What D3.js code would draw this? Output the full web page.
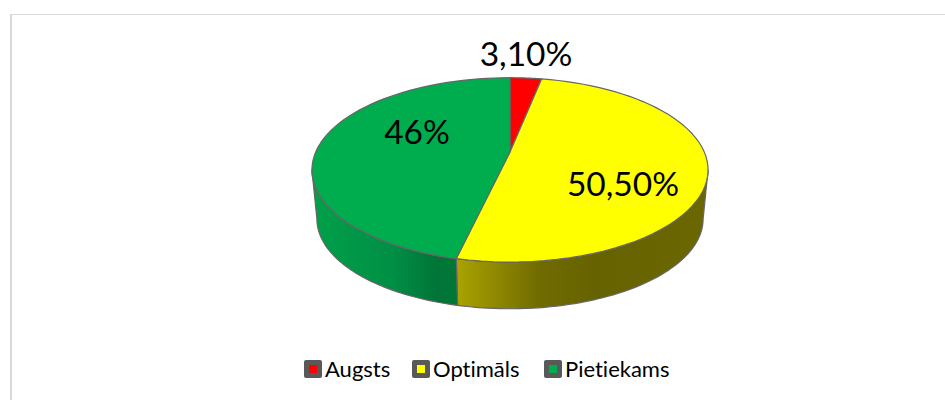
<!DOCTYPE html>
<html>
<head>
<meta charset="utf-8">
<script src="https://cdn.jsdelivr.net/npm/d3@7"></script>
<style>
html, body { margin: 0; padding: 0; background: #fff; overflow: hidden; }
svg { display: block; }
text { font-family: Lato, "Open Sans", sans-serif; fill: #000; font-variant-ligatures: none; }
</style>
</head>
<body>
<div id="chart"></div>
<script>
// values, 46% is shown rounded
var categories = ['Augsts', 'Optimāls', 'Pietiekams'];
var values = [3.1, 50.5, 46.4];
var valueLabels = ['3,10%', '50,50%', '46%'];
var colors = ['#ff0000', '#ffff00', '#00ad4e'];

var width = 945, height = 400;

// tilted disc
var cx = 510, apexY = 152;
var rx = 194.3, ry = 88.7, persp = 0.194;
var bottomScale = 0.975, bottomCy = 219, topCy = 170;
var edge = '#666666';

// label anchors (centre of text)
var labelPos = [[526, 54], [623, 184], [417, 132]];

var svg = d3.select('#chart').append('svg')
    .attr('width', width)
    .attr('height', height);

// chart frame, only top and left show
svg.append('rect').attr('x', 10).attr('y', 14).attr('width', 935).attr('height', 1).attr('fill', '#d9d9d9');
svg.append('rect').attr('x', 10).attr('y', 14).attr('width', 2).attr('height', 386).attr('fill', '#d9d9d9');

var defs = svg.append('defs');

function addGradient(id, x1, x2, stops) {
    var g = defs.append('linearGradient')
        .attr('id', id)
        .attr('gradientUnits', 'userSpaceOnUse')
        .attr('x1', x1).attr('x2', x2).attr('y1', 0).attr('y2', 0);
    stops.forEach(function(s) {
        g.append('stop').attr('offset', s[0]).attr('stop-color', s[1]);
    });
}
addGradient('sideYellow', 458, 708, [[0, '#a9a200'], [0.32, '#716c00'], [0.55, '#666200'], [1, '#6b6700']]);
addGradient('sideGreen', 312, 458, [[0, '#00a04a'], [0.55, '#008f45'], [0.85, '#007537'], [1, '#007738']]);

var pie = d3.pie().sort(null).value(function(d) { return d; });
var arcs = pie(values);

// angle clockwise from the top of the disc, with perspective
function project(a, r) {
    var u = Math.sin(a) * r, v = Math.cos(a) * r;
    var k = 1 / (1 + persp * v);
    return [cx + rx * u * k, apexY - ry * v * k];
}

function lower(p) {
    return [cx + (p[0] - cx) * bottomScale, bottomCy + (p[1] - topCy) * bottomScale];
}

function rim(a0, a1) {
    return d3.range(0, 61).map(function(i) {
        return project(a0 + (a1 - a0) * i / 60, 1);
    });
}

var line = d3.line();

// the rim is only seen between the two widest points of the disc
var sideStart = Math.acos(-persp);
var sideEnd = 2 * Math.PI - sideStart;

var sides = [
    { i: 1, fill: 'url(#sideYellow)' },
    { i: 2, fill: 'url(#sideGreen)' }
];

sides.forEach(function(s) {
    var a0 = Math.max(arcs[s.i].startAngle, sideStart);
    var a1 = Math.min(arcs[s.i].endAngle, sideEnd);
    var top = rim(a0, a1);
    var bottom = top.map(lower).reverse();
    svg.append('path')
        .attr('d', line(top.concat(bottom)) + 'Z')
        .attr('fill', s.fill)
        .attr('stroke', edge)
        .attr('stroke-width', 1.2)
        .attr('stroke-linejoin', 'round');
});

svg.selectAll('.slice')
    .data(arcs)
    .enter().append('path')
    .attr('class', 'slice')
    .attr('d', function(d) {
        return line([[cx, apexY]].concat(rim(d.startAngle, d.endAngle))) + 'Z';
    })
    .attr('fill', function(d, i) { return colors[i]; })
    .attr('stroke', edge)
    .attr('stroke-width', 1.2)
    .attr('stroke-linejoin', 'round');

svg.selectAll('.valueLabel')
    .data(valueLabels)
    .enter().append('text')
    .attr('class', 'valueLabel')
    .attr('x', function(d, i) { return labelPos[i][0]; })
    .attr('y', function(d, i) { return labelPos[i][1]; })
    .attr('dy', '0.36em')
    .attr('text-anchor', 'middle')
    .style('font-size', '33.5px')
    .text(function(d) { return d; });

// legend
var legendX = [304, 412, 544];
var legend = svg.selectAll('.legendItem')
    .data(categories)
    .enter().append('g')
    .attr('class', 'legendItem')
    .attr('transform', function(d, i) { return 'translate(' + legendX[i] + ',360)'; });

legend.append('rect')
    .attr('width', 18).attr('height', 18).attr('rx', 2)
    .attr('fill', '#595959');
legend.append('rect')
    .attr('x', 5).attr('y', 5).attr('width', 8).attr('height', 8)
    .attr('fill', function(d, i) { return colors[i]; });
legend.append('text')
    .attr('x', 21).attr('y', 9).attr('dy', '0.36em')
    .style('font-size', '22px')
    .text(function(d) { return d; });
</script>
</body>
</html>
